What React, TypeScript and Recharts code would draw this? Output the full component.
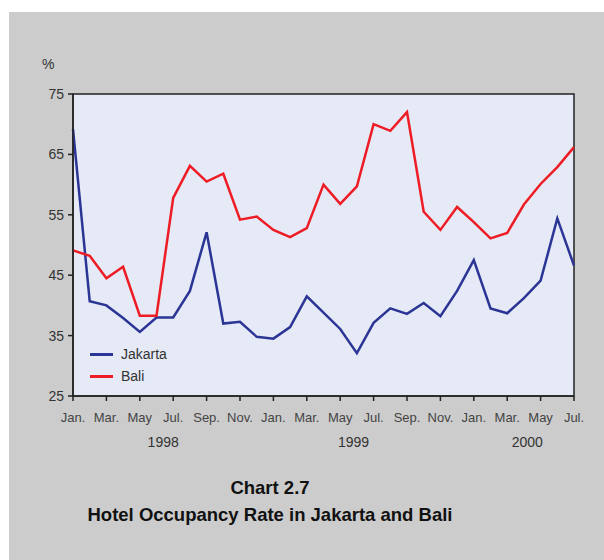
import { LineChart, Line, XAxis, YAxis, ReferenceArea } from 'recharts';

const months = [
  'Jan.', 'Feb.', 'Mar.', 'Apr.', 'May', 'Jun.', 'Jul.', 'Aug.', 'Sep.', 'Oct.', 'Nov.', 'Dec.',
  'Jan.', 'Feb.', 'Mar.', 'Apr.', 'May', 'Jun.', 'Jul.', 'Aug.', 'Sep.', 'Oct.', 'Nov.', 'Dec.',
  'Jan.', 'Feb.', 'Mar.', 'Apr.', 'May', 'Jun.', 'Jul.',
];

const jakarta = [
  69.2, 40.7, 40.0, 37.9, 35.6, 38.0, 38.0, 42.4, 52.1, 37.0, 37.3, 34.8,
  34.5, 36.4, 41.5, 38.8, 36.1, 32.1, 37.1, 39.5, 38.6, 40.4, 38.2, 42.4,
  47.5, 39.5, 38.7, 41.2, 44.1, 54.4, 46.6,
];

const bali = [
  49.1, 48.2, 44.5, 46.4, 38.3, 38.3, 57.8, 63.1, 60.5, 61.8, 54.2, 54.7,
  52.5, 51.3, 52.8, 60.0, 56.8, 59.7, 70.0, 68.9, 72.0, 55.5, 52.5, 56.3,
  53.8, 51.1, 52.0, 56.7, 60.1, 62.9, 66.2,
];

const monthTicks = [0, 2, 4, 6, 8, 10, 12, 14, 16, 18, 20, 22, 24, 26, 28, 30];
const yTicks = [25, 35, 45, 55, 65, 75];
const years = ['1998', '1999', '2000'];
const yearPos = [5.4, 16.8, 27.2];

const series = [
  { key: 'jakarta', name: 'Jakarta', color: '#2b3595' },
  { key: 'bali', name: 'Bali', color: '#ee1c25' },
];

const data = months.map((m, i) => ({ idx: i, month: m, jakarta: jakarta[i], bali: bali[i] }));

const font = '"Liberation Sans", Arial, sans-serif';

export default function App() {
  return (
    <div style={{ position: 'absolute', left: 9, top: 12, width: 595, height: 548, background: '#cccccc', fontFamily: font }}>
      <div style={{ position: 'absolute', left: 33, top: 44, fontSize: 14, color: '#333' }}>%</div>
      <LineChart width={595} height={450} data={data} margin={{ top: 82, right: 30, left: 14, bottom: 8 }}>
        <ReferenceArea xAxisId="m" x1={0} x2={30} y1={25} y2={75} fill="#e6eaf6" fillOpacity={1} stroke="#222" strokeWidth={1.5} />
        <XAxis
          xAxisId="m"
          dataKey="idx"
          type="number"
          domain={[0, 30]}
          ticks={monthTicks}
          tickFormatter={(v: number) => months[v]}
          interval={0}
          height={34}
          tickSize={5}
          tickMargin={12}
          stroke="#222"
          strokeWidth={1.5}
          tick={{ fill: '#444', fontSize: 13 }}
        />
        <XAxis
          xAxisId="y"
          type="number"
          domain={[0, 30]}
          ticks={yearPos}
          tickFormatter={(v: number) => years[yearPos.indexOf(v)]}
          interval={0}
          height={24}
          axisLine={false}
          tickLine={false}
          tickSize={0}
          tickMargin={7}
          tick={{ fill: '#333', fontSize: 14 }}
        />
        <YAxis
          domain={[25, 75]}
          ticks={yTicks}
          interval={0}
          width={50}
          tickSize={5}
          tickMargin={4}
          stroke="#222"
          strokeWidth={1.5}
          tick={{ fill: '#333', fontSize: 14 }}
        />
        {series.map((s) => (
          <Line key={s.key} xAxisId="m" type="linear" dataKey={s.key} name={s.name} stroke={s.color} strokeWidth={2.5} dot={false} isAnimationActive={false} />
        ))}
      </LineChart>
      {/* legend sits inside the plot, lower left */}
      <div style={{ position: 'absolute', left: 81, top: 331, fontSize: 14, color: '#333' }}>
        {series.map((s) => (
          <div key={s.key} style={{ display: 'flex', alignItems: 'center', height: 22 }}>
            <span style={{ display: 'inline-block', width: 23, height: 3, background: s.color, marginRight: 8 }} />
            <span>{s.name}</span>
          </div>
        ))}
      </div>
      <div style={{ position: 'absolute', left: 0, top: 462, width: 522, textAlign: 'center', fontWeight: 'bold', fontSize: 18.5, color: '#111', lineHeight: '27px' }}>
        <div>Chart 2.7</div>
        <div>Hotel Occupancy Rate in Jakarta and Bali</div>
      </div>
    </div>
  );
}
